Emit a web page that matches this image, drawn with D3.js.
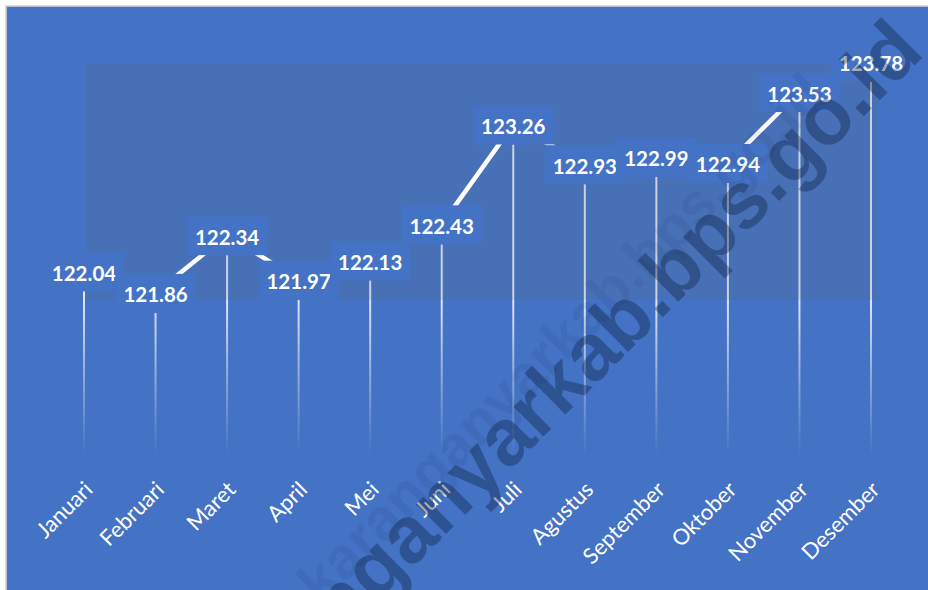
<!DOCTYPE html>
<html>
<head>
<meta charset="utf-8">
<script src="https://cdn.jsdelivr.net/npm/d3@7"></script>
<style>
  html, body { margin: 0; padding: 0; background: #ffffff; }
  svg { display: block; }
</style>
</head>
<body>
<svg id="chart" width="928" height="590"></svg>
<script>
// Monthly index values
const months = ["Januari", "Februari", "Maret", "April", "Mei", "Juni",
                "Juli", "Agustus", "September", "Oktober", "November", "Desember"];
const values = [122.04, 121.86, 122.34, 121.97, 122.13, 122.43,
                123.26, 122.93, 122.99, 122.94, 123.53, 123.78];
const watermarkText = "karanganyarkab.bps.go.id";

const W = 928, H = 590;
const bg = "#4472C4";
const svg = d3.select("#chart");

const x = d3.scalePoint().domain(months).range([84, 871]);
const y = d3.scaleLinear().domain([120.67, 124.3]).range([456, 19.4]);
const axisY = y.range()[0];

// chart area with light border
svg.append("rect")
  .attr("x", 6).attr("y", 6).attr("width", W).attr("height", H)
  .attr("fill", bg).attr("stroke", "#d4d4d4").attr("stroke-width", 1.6);

const defs = svg.append("defs");
const grad = defs.append("linearGradient")
  .attr("id", "dropGrad").attr("gradientUnits", "userSpaceOnUse")
  .attr("x1", 0).attr("x2", 0).attr("y1", 300).attr("y2", axisY);
grad.append("stop").attr("offset", 0).attr("stop-color", "#ffffff").attr("stop-opacity", 0.82);
grad.append("stop").attr("offset", 0.55).attr("stop-color", "#ffffff").attr("stop-opacity", 0.35);
grad.append("stop").attr("offset", 1).attr("stop-color", "#ffffff").attr("stop-opacity", 0.0);

// drop lines from each point to the category axis
svg.append("g").selectAll("line")
  .data(values)
  .join("line")
  .attr("x1", (d, i) => x(months[i])).attr("x2", (d, i) => x(months[i]))
  .attr("y1", d => y(d)).attr("y2", axisY)
  .attr("stroke", "url(#dropGrad)").attr("stroke-width", 2);

// shaded panel behind the upper part of the series
svg.append("rect")
  .attr("x", 86).attr("y", 64).attr("width", 791).attr("height", 236)
  .attr("fill", "rgb(92,100,112)").attr("fill-opacity", 0.15);

// series line
const line = d3.line()
  .x((d, i) => x(months[i]))
  .y(d => y(d));
svg.append("path")
  .datum(values)
  .attr("transform", "translate(0,-20)")
  .attr("d", line)
  .attr("fill", "none")
  .attr("stroke", "#ffffff")
  .attr("stroke-width", 4.5)
  .attr("stroke-linejoin", "round");

// value labels in boxes above each point
const lbl = svg.append("g").selectAll("g")
  .data(values)
  .join("g")
  .attr("transform", (d, i) => `translate(${x(months[i])},${y(d)})`);
lbl.append("text")
  .attr("y", -18.5)
  .attr("text-anchor", "middle")
  .attr("dominant-baseline", "central")
  .attr("fill", "#ffffff")
  .attr("font-family", "Lato, 'Noto Sans', sans-serif")
  .attr("font-weight", "bold")
  .attr("font-size", 20.5)
  .text(d => d.toFixed(2));
lbl.each(function () {
  const g = d3.select(this);
  const w = g.select("text").node().getComputedTextLength() + 16;
  g.insert("rect", "text")
    .attr("x", -w / 2).attr("y", -39).attr("width", w).attr("height", 39)
    .attr("fill", bg);
});

// rotated month labels
svg.append("g").selectAll("text")
  .data(months)
  .join("text")
  .attr("transform", d => `translate(${x(d) + 4},${485}) rotate(-45)`)
  .attr("text-anchor", "end")
  .attr("dominant-baseline", "central")
  .attr("fill", "#ffffff")
  .attr("font-family", "Lato, 'Noto Sans', sans-serif")
  .attr("font-size", 22)
  .text(d => d);

// watermark
svg.append("text")
  .attr("transform", "translate(830,98) rotate(-45)")
  .attr("text-anchor", "end")
  .attr("fill", "#081c3b").attr("fill-opacity", 0.07)
  .attr("font-family", "'Liberation Sans', Arial, sans-serif")
  .attr("font-weight", "bold")
  .attr("font-size", 58)
  .text(watermarkText);
svg.append("text")
  .attr("transform", "translate(926,54) rotate(-45)")
  .attr("text-anchor", "end")
  .attr("fill", "#081c3b").attr("fill-opacity", 0.36)
  .attr("font-family", "'Liberation Sans', Arial, sans-serif")
  .attr("font-weight", "bold")
  .attr("font-size", 80)
  .text(watermarkText);
</script>
</body>
</html>
